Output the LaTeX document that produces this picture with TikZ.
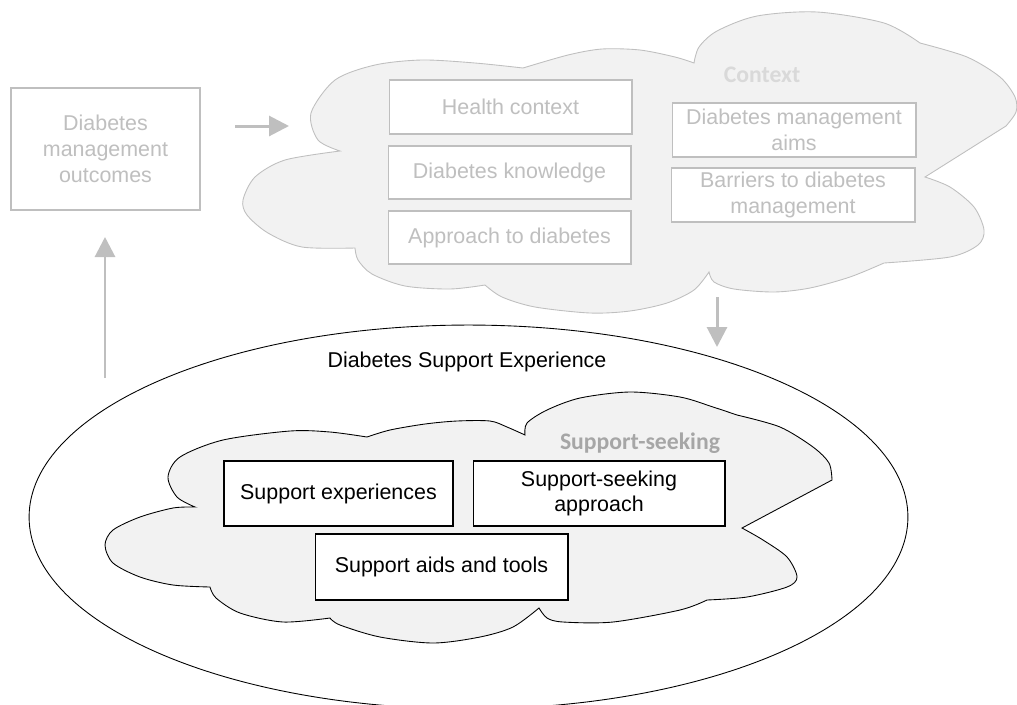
\documentclass[tikz,border=0pt]{standalone}
\usepackage{fontspec}
\setmainfont{Liberation Sans}
\newfontfamily\labelfont{Carlito}
\usetikzlibrary{arrows.meta}
\definecolor{mgrey}{RGB}{191,191,191}
\definecolor{mlight}{RGB}{217,217,217}
\definecolor{mmid}{RGB}{166,166,166}
\definecolor{mfill}{RGB}{242,242,242}
\tikzset{greybox/.style = {draw=mgrey, fill=white, text=mgrey, line width=0.6pt,
                           inner sep=0pt, align=center,
                           font=\fontsize{12.2}{14.7}\selectfont},
         blackbox/.style = {draw=black, fill=white, line width=0.6pt,
                            inner sep=0pt, align=center,
                            font=\fontsize{12.2}{14.5}\selectfont},
         cloudlabel/.style = {font=\labelfont\fontsize{13.5}{16}\selectfont\bfseries},
         greyarrow/.style = {draw=mgrey, line width=1.7pt,
                             -{Triangle[length=0.4cm, width=0.4cm]}}}

\begin{document}
\begin{tikzpicture}[x=0.02cm, y=-0.02cm]
    \useasboundingbox (0,0) rectangle (1017,704);

    % context cloud
    \filldraw [draw=mgrey, fill=mfill, line width=0.5pt] (340,151)
      -- plot [smooth] coordinates {(340,151) (318,140) (311,113) (335,80) (375,65) (422,60) (475,63) (523,68)}
      -- plot [smooth] coordinates {(523,68) (568,55) (602,49) (640,50) (675,57) (694,63)}
      -- plot [smooth] coordinates {(694,63) (699,47) (717,31) (757,16) (817,12) (884,23) (920,43)}
      -- plot [smooth] coordinates {(920,43) (967,57) (1000,77) (1015,97) (1016,112) (1006,126)}
      -- (925,177)
      -- plot [smooth] coordinates {(925,177) (950,187) (974,207) (984,230) (978,245) (950,257) (884,263)}
      -- plot [smooth] coordinates {(884,263) (850,277) (810,288) (774,292) (734,289) (714,282) (709,272)}
      -- plot [smooth] coordinates {(709,272) (694,290) (667,303) (630,311) (590,313) (535,307) (502,297) (485,285)}
      -- plot [smooth] coordinates {(485,285) (450,289) (405,286) (372,274) (358,260) (355,248)}
      -- plot [smooth] coordinates {(355,248) (302,247) (268,233) (247,215) (243,200) (255,177) (285,160) (340,151)}
      -- cycle;

    \node [cloudlabel, text=mlight] (context) at (762,75) {Context};
    \node [greybox, minimum width=4.86cm, minimum height=1.08cm] (health) at (510.5,107) {Health context};
    \node [greybox, minimum width=4.86cm, minimum height=1.06cm] (knowledge) at (509.5,172.5) {Diabetes knowledge};
    \node [greybox, minimum width=4.86cm, minimum height=1.06cm] (approach) at (509.5,237.5) {Approach to diabetes};
    \node [greybox, minimum width=4.88cm, minimum height=1.08cm] (aims) at (794,130) {Diabetes management\\aims};
    \node [greybox, minimum width=4.88cm, minimum height=1.08cm] (barriers) at (793,195) {Barriers to diabetes\\management};

    \node [greybox, minimum width=3.78cm, minimum height=2.44cm] (outcomes) at (105.5,149) {Diabetes\\management\\outcomes};

    % support experience
    \draw [line width=0.5pt] (468.5,517) ellipse [x radius=8.79cm, y radius=3.84cm];
    \node [font=\fontsize{12.2}{14.7}\selectfont] (experience) at (467,362) {Diabetes Support Experience};

    \filldraw [draw=black, fill=mfill, line width=0.5pt] (195,507)
      -- plot [smooth] coordinates {(195,507) (177,497) (168,477) (180,457) (223,440) (290,431) (330,432) (367,437)}
      -- plot [smooth] coordinates {(367,437) (390,430) (425,424) (457,421) (490,421) (507,427) (525,435)}
      -- plot [smooth] coordinates {(525,435) (527,423) (547,410) (580,398) (630,392) (680,397) (713,407) (737,415)}
      -- plot [smooth] coordinates {(737,415) (780,427) (813,447) (829,463) (832,480)}
      -- (742,528)
      -- plot [smooth] coordinates {(742,528) (763,540) (787,557) (797,577) (787,587) (747,597) (707,600)}
      -- plot [smooth] coordinates {(707,600) (680,610) (613,622) (563,622) (547,618) (539,608)}
      -- plot [smooth] coordinates {(539,608) (513,627) (480,637) (433,643) (380,637) (340,625) (330,618)}
      -- plot [smooth] coordinates {(330,618) (283,622) (240,613) (216,598) (210,587)}
      -- plot [smooth] coordinates {(210,587) (173,585) (140,577) (113,563) (105,545) (113,530) (140,517) (173,508) (195,507)}
      -- cycle;

    \node [cloudlabel, text=mmid] (seeking) at (640,443) {Support-seeking};
    \node [blackbox, minimum width=4.58cm, minimum height=1.30cm] (experiences) at (338.5,493.5) {Support experiences};
    \node [blackbox, minimum width=5.04cm, minimum height=1.30cm] (seekapproach) at (599,493.5) {Support-seeking\\approach};
    \node [blackbox, minimum width=5.06cm, minimum height=1.32cm] (aids) at (441.5,567) {Support aids and tools};

    % arrows
    \coordinate (r0) at (235,126);
    \coordinate (r1) at (289,126);
    \coordinate (d0) at (717,297);
    \coordinate (d1) at (717,347);
    \coordinate (u0) at (105,378);
    \coordinate (u1) at (105,237);
    \draw [greyarrow] (r0) -- (r1);
    \draw [greyarrow] (d0) -- (d1);
    \draw [greyarrow] (u0) -- (u1);
  \end{tikzpicture}
\end{document}
